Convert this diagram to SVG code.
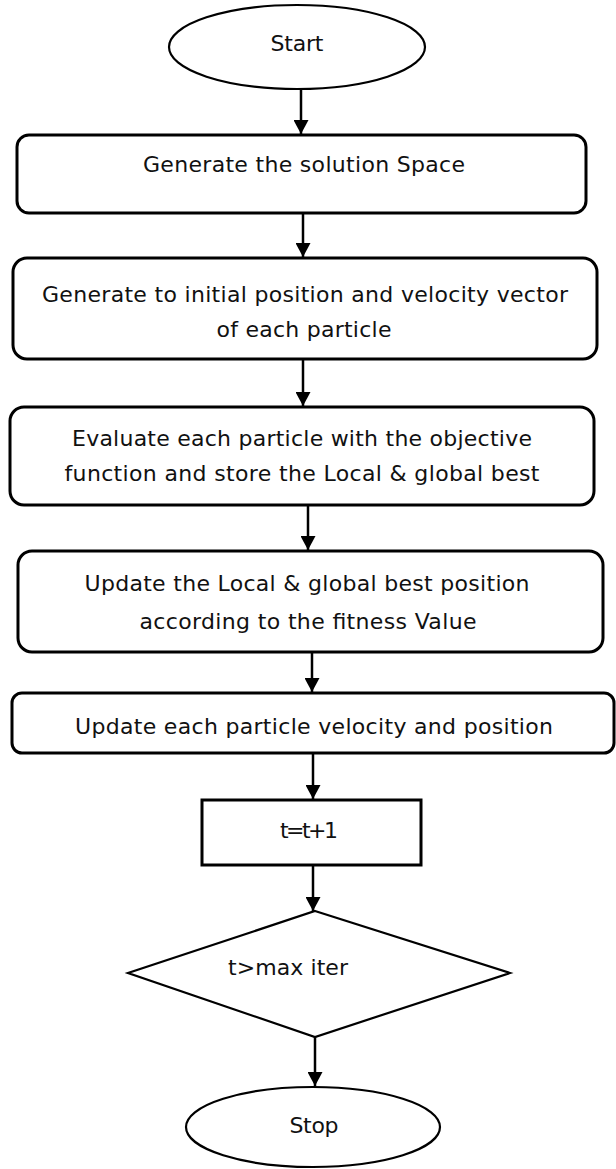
<svg xmlns="http://www.w3.org/2000/svg" width="616" height="1169" viewBox="0 0 616 1169">
  <defs>
    <marker id="arrow" viewBox="0 0 14 15" refX="14" refY="7.5" markerWidth="14" markerHeight="15" markerUnits="userSpaceOnUse" orient="auto">
      <path d="M0,0 L14,7.5 L0,15 z" fill="#000"/>
    </marker>
    <style>
      .box { fill: #fff; stroke: #000; stroke-width: 3; }
      .term { fill: #fff; stroke: #000; stroke-width: 2.2; }
      .lbl { font-family: "DejaVu Sans", "Liberation Sans", sans-serif; font-size: 22px; fill: #111; text-anchor: middle; }
      .conn { stroke: #000; stroke-width: 2.5; fill: none; marker-end: url(#arrow); }
    </style>
  </defs>
  <rect width="616" height="1169" fill="#fff"/>

  <g id="connectors">
    <line class="conn" x1="301" y1="89" x2="301" y2="134"/>
    <line class="conn" x1="303" y1="213" x2="303" y2="257"/>
    <line class="conn" x1="303" y1="359" x2="303" y2="406"/>
    <line class="conn" x1="308" y1="505" x2="308" y2="550"/>
    <line class="conn" x1="312" y1="652" x2="312" y2="692"/>
    <line class="conn" x1="313" y1="753" x2="313" y2="799"/>
    <line class="conn" x1="313" y1="865" x2="313" y2="911"/>
    <line class="conn" x1="315" y1="1037" x2="315" y2="1086"/>
  </g>

  <g id="start">
    <ellipse class="term" cx="297" cy="47" rx="128" ry="42"/>
    <text class="lbl" x="297" y="51" textLength="53">Start</text>
  </g>

  <g id="gen-space">
    <rect class="box" x="17" y="135" width="569" height="78" rx="12"/>
    <text class="lbl" x="304" y="172" textLength="322">Generate the solution Space</text>
  </g>

  <g id="gen-init">
    <rect class="box" x="13" y="258" width="584" height="101" rx="14"/>
    <text class="lbl" x="305" y="302" textLength="526">Generate to initial position and velocity vector</text>
    <text class="lbl" x="304" y="337" textLength="175">of each particle</text>
  </g>

  <g id="evaluate">
    <rect class="box" x="10" y="407" width="584" height="98" rx="14"/>
    <text class="lbl" x="302" y="446" textLength="460">Evaluate each particle with the objective</text>
    <text class="lbl" x="302" y="481" textLength="475">function and store the Local &amp; global best</text>
  </g>

  <g id="update-best">
    <rect class="box" x="18" y="551" width="585" height="101" rx="14"/>
    <text class="lbl" x="307" y="591" textLength="445">Update the Local &amp; global best position</text>
    <text class="lbl" x="308" y="629" textLength="337">according to the fitness Value</text>
  </g>

  <g id="update-vel">
    <rect class="box" x="12" y="693" width="602" height="60" rx="10"/>
    <text class="lbl" x="314" y="734" textLength="478">Update each particle velocity and position</text>
  </g>

  <g id="increment">
    <rect class="box" x="202" y="800" width="219" height="65"/>
    <text class="lbl" x="309" y="838" textLength="58">t=t+1</text>
  </g>

  <g id="decision">
    <polygon class="term" points="315,911 510,973 315,1037 128,973"/>
    <text class="lbl" x="288" y="975" textLength="120">t&gt;max iter</text>
  </g>

  <g id="stop">
    <ellipse class="term" cx="313" cy="1127" rx="127" ry="40"/>
    <text class="lbl" x="314" y="1133" textLength="49">Stop</text>
  </g>
</svg>
